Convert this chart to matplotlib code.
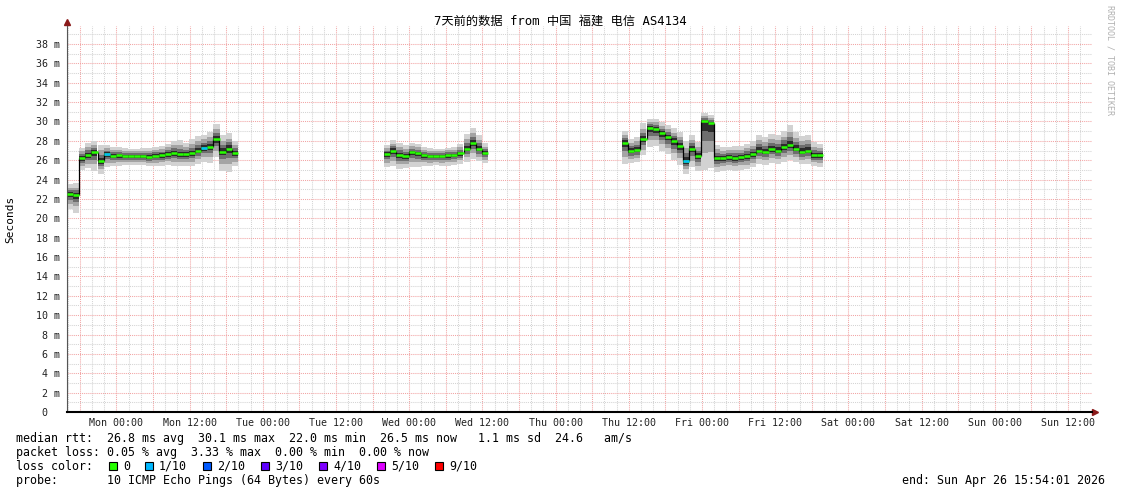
import numpy as np
import matplotlib.pyplot as plt
import matplotlib.dates as mdates
from matplotlib.patches import Rectangle
from datetime import datetime, timedelta

# graph window: 7 days ending at "end"
start = datetime(2026, 4, 19, 15, 54, 1)
end = datetime(2026, 4, 26, 15, 54, 1)
nan = np.nan

# hourly median rtt (ms) + smoke extremes, per block of data
sun_mon_med = [22.5, 22.4, 26.2, 26.5, 26.8, 25.9, 26.6, 26.4, 26.5, 26.4, 26.4, 26.4, 26.4, 26.3,
               26.4, 26.5, 26.6, 26.7, 26.6, 26.6, 26.7, 27.0, 27.3, 27.4, 28.2, 26.9, 27.2, 26.7]
sun_mon_hi = [23.5, 23.6, 27.3, 27.8, 28.0, 27.6, 27.6, 27.4, 27.4, 27.3, 27.2, 27.2, 27.3, 27.3,
              27.4, 27.5, 27.7, 28.0, 28.1, 27.8, 28.2, 28.5, 28.6, 28.9, 29.7, 28.6, 28.8, 28.0]
sun_mon_lo = [21.0, 20.6, 25.0, 25.2, 24.9, 24.6, 25.3, 25.4, 25.4, 25.5, 25.5, 25.5, 25.5, 25.4,
              25.4, 25.4, 25.5, 25.4, 25.4, 25.4, 25.4, 25.6, 25.8, 25.7, 26.3, 24.9, 24.8, 25.4]
gap1 = [nan] * 24
wed_med = [26.6, 27.0, 26.5, 26.4, 26.8, 26.7, 26.5, 26.4, 26.4, 26.4, 26.5, 26.5, 26.7, 27.2, 27.8, 27.2, 26.7]
wed_hi = [27.6, 28.1, 27.8, 27.6, 27.8, 27.7, 27.4, 27.3, 27.2, 27.2, 27.3, 27.4, 27.7, 28.7, 29.3, 28.6, 27.8]
wed_lo = [25.3, 25.4, 25.1, 25.2, 25.3, 25.3, 25.4, 25.4, 25.5, 25.4, 25.4, 25.5, 25.6, 25.8, 26.1, 25.9, 25.7]
gap2 = [nan] * 22
thu_fri_med = [27.8, 27.0, 27.1, 28.2, 29.3, 29.2, 28.8, 28.4, 28.0, 27.5, 25.9, 27.2, 26.4, 30.0, 29.8, 26.2, 26.2,
               26.3, 26.2, 26.3, 26.4, 26.6, 27.0, 26.9, 27.2, 27.0, 27.4, 27.6, 27.2, 26.9, 27.0, 26.5, 26.5]
thu_fri_hi = [29.0, 28.2, 28.4, 29.8, 30.3, 30.3, 29.9, 29.6, 29.3, 28.9, 28.0, 28.6, 27.9, 30.9, 30.7, 27.6, 27.4,
              27.4, 27.5, 27.5, 27.7, 28.0, 28.6, 28.4, 28.7, 28.6, 29.0, 29.6, 28.9, 28.5, 28.6, 27.9, 27.7]
thu_fri_lo = [25.6, 25.7, 25.8, 26.5, 27.4, 27.5, 27.0, 26.6, 26.0, 25.5, 24.6, 25.3, 24.9, 25.0, 25.2, 24.8, 24.9,
              25.0, 24.9, 25.0, 25.1, 25.3, 25.6, 25.5, 25.7, 25.6, 25.8, 26.0, 25.8, 25.6, 25.6, 25.4, 25.3]
loss_hours = [6, 22, 101]  # hours (from start) with 1/10 loss

median_ms = np.array(sun_mon_med + gap1 + wed_med + gap2 + thu_fri_med)
hi_ms = np.array(sun_mon_hi + gap1 + wed_hi + gap2 + thu_fri_hi)
lo_ms = np.array(sun_mon_lo + gap1 + wed_lo + gap2 + thu_fri_lo)

loss_labels = ['0', '1/10', '2/10', '3/10', '4/10', '5/10', '9/10']
loss_colors = ['#26ff00', '#00b8ff', '#0059ff', '#5e00ff', '#7e00ff', '#dd00ff', '#ff0000']

mono = 'DejaVu Sans Mono'
W, H = 1121, 494
fig = plt.figure(figsize=(W / 100, H / 100), dpi=100)
ax = fig.add_axes([67 / W, 82 / H, 1024.8 / W, 386 / H])

t = mdates.date2num([start + timedelta(hours=i) for i in range(len(median_ms))])
step = 1 / 24

# smoke: nested bands from extremes towards the median
for frac, col in [(1.0, '#d2d2d2'), (0.65, '#a4a4a4'), (0.4, '#6e6e6e'), (0.2, '#2c2c2c')]:
    lo = median_ms - frac * (median_ms - lo_ms)
    hi = median_ms + frac * (hi_ms - median_ms)
    ax.bar(t, hi - lo, bottom=lo, width=step, align='edge', color=col, linewidth=0, zorder=2)

# median: black connectors, coloured by loss
ok = ~np.isnan(median_ms[:-1]) & ~np.isnan(median_ms[1:])
ax.vlines(t[1:][ok], median_ms[:-1][ok], median_ms[1:][ok], color='black', lw=0.9, zorder=3)
ax.hlines(median_ms, t, t + step, color=loss_colors[0], lw=1.8, zorder=4)
ax.hlines(median_ms[loss_hours], t[loss_hours], t[loss_hours] + step, color=loss_colors[1], lw=1.8, zorder=5)

ax.set_xlim(mdates.date2num(start), mdates.date2num(end))
ax.set_ylim(0, 39.86)

ax.xaxis.set_major_locator(mdates.HourLocator(byhour=[0, 6, 12, 18]))
ax.xaxis.set_minor_locator(mdates.HourLocator(byhour=range(0, 24, 2)))
ax.xaxis.set_major_formatter(plt.FuncFormatter(
    lambda x, pos: mdates.num2date(x).strftime('%a %H:%M') if mdates.num2date(x).hour % 12 == 0 else ''))
ax.yaxis.set_major_locator(plt.MultipleLocator(2))
ax.yaxis.set_minor_locator(plt.MultipleLocator(1))
ax.yaxis.set_major_formatter(plt.FuncFormatter(lambda v, pos: '0  ' if v == 0 else f'{v:.0f} m'))

ax.grid(which='major', color='#f2a4a4', ls=(0, (1, 1)), lw=0.75)
ax.grid(which='minor', color='#d4d4d4', ls=(0, (1, 1)), lw=0.75)
ax.set_axisbelow(True)
ax.tick_params(which='both', length=0, labelsize=7.2, labelcolor='#222222')
ax.tick_params(axis='y', pad=5)
ax.tick_params(axis='x', pad=4)
for lab in ax.get_xticklabels() + ax.get_yticklabels():
    lab.set_family(mono)

for s in ['top', 'right']:
    ax.spines[s].set_visible(False)
ax.spines['left'].set_color('#555555')
ax.spines['bottom'].set_color('black')
ax.spines['bottom'].set_linewidth(1.5)
ax.plot(0, 1.01, marker='^', ms=4, color='#8b1a1a', transform=ax.transAxes, clip_on=False)
ax.plot(1.003, 0, marker='>', ms=4, color='#8b1a1a', transform=ax.transAxes, clip_on=False)

fig.text(560 / W, 1 - 21 / H, '7天前的数据 from 中国 福建 电信 AS4134', ha='center', va='center',
         fontsize=8.8, family=[mono, 'Noto Sans CJK SC'])
fig.text(10 / W, 1 - 219 / H, 'Seconds', rotation=90, ha='center', va='center', fontsize=8, family=mono)
fig.text(1110 / W, 1 - 60 / H, 'RRDTOOL / TOBI OETIKER', rotation=270, ha='center', va='center',
         fontsize=6, family=mono, color='#b0b0b0')

fs = 8.4
fig.text(16 / W, 1 - 438 / H, 'median rtt:  26.8 ms avg  30.1 ms max  22.0 ms min  26.5 ms now   1.1 ms sd  24.6   am/s',
         va='center', fontsize=fs, family=mono)
fig.text(16 / W, 1 - 452 / H, 'packet loss: 0.05 % avg  3.33 % max  0.00 % min  0.00 % now',
         va='center', fontsize=fs, family=mono)
fig.text(16 / W, 1 - 466 / H, 'loss color:', va='center', fontsize=fs, family=mono)
label_x = [124, 160, 218, 276, 334, 392, 450]
for lx, lab, col in zip(label_x, loss_labels, loss_colors):
    fig.patches.append(Rectangle(((lx - 15.5) / W, 1 - 470 / H), 8 / W, 8 / H, transform=fig.transFigure,
                                 facecolor=col, edgecolor='black', lw=0.8))
    fig.text((lx - 1) / W, 1 - 466 / H, lab, va='center', fontsize=fs, family=mono)
fig.text(16 / W, 1 - 480 / H, 'probe:       10 ICMP Echo Pings (64 Bytes) every 60s', va='center', fontsize=fs, family=mono)
fig.text(1105 / W, 1 - 480 / H, 'end: Sun Apr 26 15:54:01 2026', ha='right', va='center', fontsize=fs, family=mono)

fig.savefig('out.png', dpi=100)
